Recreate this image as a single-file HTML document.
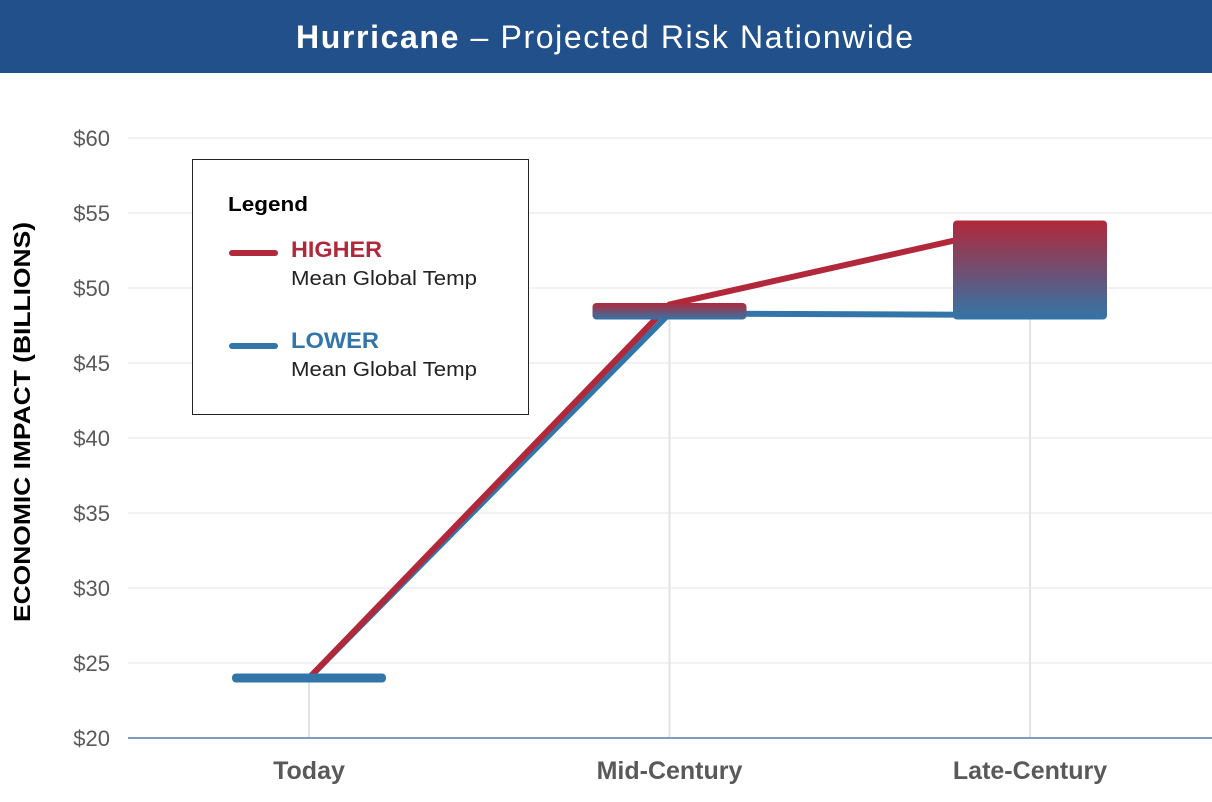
<!DOCTYPE html>
<html><head><meta charset="utf-8"><style>
body{margin:0;width:1212px;height:802px;background:#fff;overflow:hidden;font-family:"Liberation Sans",sans-serif}
</style></head><body>
<svg width="1212" height="802" style="position:absolute;left:0;top:0">
<defs>
<linearGradient id="g" x1="0" y1="0" x2="0" y2="1"><stop offset="0" stop-color="#b1283a"/><stop offset="1" stop-color="#3275a8"/></linearGradient>
</defs>
<rect x="0" y="0" width="1212" height="73" fill="#22508a"/>
<text x="296" y="48" font-size="32" fill="#fff" textLength="617" lengthAdjust="spacing"><tspan font-weight="bold">Hurricane</tspan> – Projected  Risk Nationwide</text>
<g id="grid"></g>
<g id="marks"></g>
<text transform="translate(30,622) rotate(-90)" font-size="23" font-weight="bold" fill="#000" textLength="400" lengthAdjust="spacingAndGlyphs">ECONOMIC IMPACT (BILLIONS)</text>
<g>
<rect x="192.5" y="159.5" width="336" height="255" fill="#fff" stroke="#222" stroke-width="1"/>
<text x="228" y="211" font-size="20" font-weight="bold" fill="#000" textLength="80" lengthAdjust="spacingAndGlyphs">Legend</text>
<line x1="232" y1="253" x2="275" y2="253" stroke="#b1283a" stroke-width="6" stroke-linecap="round"/>
<text x="291" y="257" font-size="22" font-weight="bold" fill="#b1283a" textLength="91" lengthAdjust="spacingAndGlyphs">HIGHER</text>
<text x="291" y="285" font-size="20" fill="#222" textLength="186" lengthAdjust="spacingAndGlyphs">Mean Global Temp</text>
<line x1="232" y1="346" x2="275" y2="346" stroke="#3275a8" stroke-width="6" stroke-linecap="round"/>
<text x="291" y="348" font-size="22" font-weight="bold" fill="#3275a8" textLength="88" lengthAdjust="spacingAndGlyphs">LOWER</text>
<text x="291" y="376" font-size="20" fill="#222" textLength="186" lengthAdjust="spacingAndGlyphs">Mean Global Temp</text>
</g>
</svg>
<script>
const categories=["Today","Mid-Century","Late-Century"];
const higher=[24.0,48.9,54.3];
const lower=[24.0,48.3,48.2];
const boxTop=[24.3,49.0,54.5];
const boxBottom=[23.7,47.9,47.9];
const yTicks=[20,25,30,35,40,45,50,55,60];
const yLabels=["$20","$25","$30","$35","$40","$45","$50","$55","$60"];
const NS="http://www.w3.org/2000/svg";
const y=v=>738-(v-20)*15;
const x=i=>309+i*360.5;
function mk(t,a,p){const e=document.createElementNS(NS,t);for(const k in a)e.setAttribute(k,a[k]);p.appendChild(e);return e;}
const grid=document.getElementById('grid'),marks=document.getElementById('marks');
yTicks.forEach((v,i)=>{
 if(v>20){const l=mk('line',{x1:128,x2:1212,y1:y(v),y2:y(v),stroke:'#e6e6e6','stroke-width':1},grid);
 
 }
 const t=mk('text',{x:110,y:y(v)+8,'text-anchor':'end','font-size':22,fill:'#595959'},grid);t.textContent=yLabels[i];
 
 
});
categories.forEach((c,i)=>{
 const l=mk('line',{x1:x(i),x2:x(i),y1:y(boxBottom[i]),y2:738,stroke:'#e3e3e3','stroke-width':2},grid);
 
 
 const t=mk('text',{x:x(i),y:779,'text-anchor':'middle','font-size':25,'font-weight':'bold',fill:'#595959'},grid);t.textContent=c;
 
 
});
const ax=mk('line',{x1:128,x2:1212,y1:738,y2:738,stroke:'#7f9bbd','stroke-width':2},grid);


const pts=a=>a.map((v,i)=>x(i)+','+y(v)).join(' ');
const lo=mk('polyline',{points:pts(lower),fill:'none',stroke:'#3275a8','stroke-width':6},marks);


const hi=mk('polyline',{points:pts(higher),fill:'none',stroke:'#b1283a','stroke-width':6},marks);


categories.forEach((c,i)=>{
 const t=y(boxTop[i]),b=y(boxBottom[i]);
 const r=mk('rect',{x:x(i)-77,y:t,width:154,height:b-t,rx:4,fill:i==0?'#3275a8':'url(#g)'},marks);
 
 
});
</script>
</body></html>
